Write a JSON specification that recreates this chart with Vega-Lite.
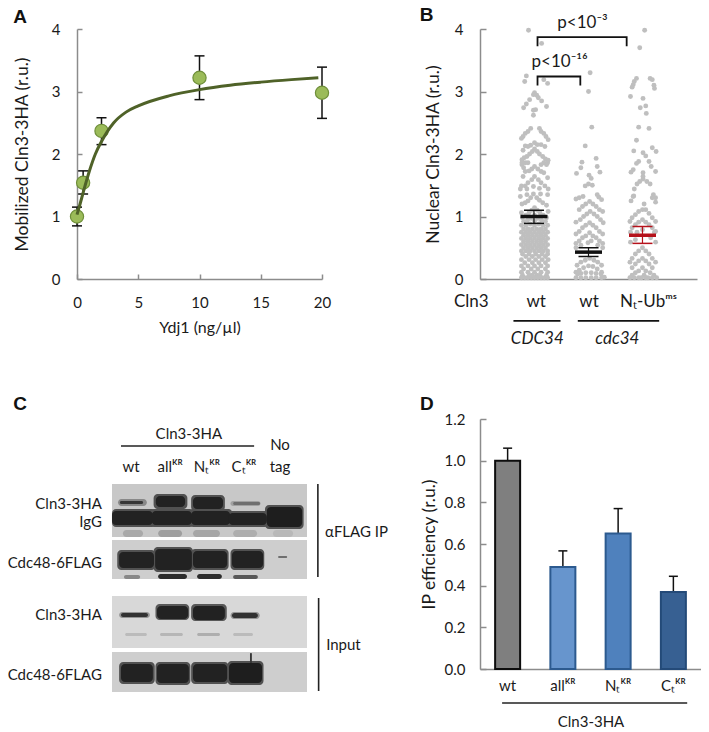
{
"$schema":"https://vega.github.io/schema/vega-lite/v6.json",
"padding":{"left":7,"top":6,"right":0,"bottom":0},
"background":"white",
"bounds":"flush",
"columns":2,
"spacing":{"column":158,"row":140},
"config":{"font":"Lato","tick":{"opacity":1},"view":{"stroke":null},"axis":{"grid":false,"labelFlush":false,"labelOverlap":false,"domainColor":"#8c8c8c","domainWidth":1.5,"tickColor":"#8c8c8c","tickWidth":1.5,"labelColor":"#1a1a1a","titleColor":"#1a1a1a","labelFontSize":15,"titleFontSize":17.5,"titleFontWeight":"normal","labelFont":"Lato","titleFont":"Lato"}},
"datasets":{
"swarm":[
{"g":"a","x":0.89,"y":3.98},{"g":"a","x":1.13,"y":3.77},{"g":"a","x":0.85,"y":3.25},{"g":"a","x":0.82,"y":3.16},{"g":"a","x":1.17,"y":3.19},{"g":"a","x":1.24,"y":3.13},{"g":"a","x":1,"y":2.98},{"g":"a","x":0.98,"y":2.95},{"g":"a","x":1.04,"y":2.94},{"g":"a","x":1.07,"y":2.9},{"g":"a","x":0.91,"y":2.87},{"g":"a","x":1.13,"y":2.85},{"g":"a","x":0.85,"y":2.8},{"g":"a","x":0.8,"y":2.74},{"g":"a","x":1.22,"y":2.76},{"g":"a","x":1.02,"y":2.71},{"g":"a","x":0.98,"y":2.7},{"g":"a","x":0.98,"y":2.62},
{"g":"a","x":0.93,"y":2.41},{"g":"a","x":0.88,"y":2.36},{"g":"a","x":0.83,"y":2.33},{"g":"a","x":0.79,"y":2.28},{"g":"a","x":0.76,"y":2.25},{"g":"a","x":1.09,"y":2.41},{"g":"a","x":1.12,"y":2.36},{"g":"a","x":1.17,"y":2.33},{"g":"a","x":1.21,"y":2.28},{"g":"a","x":1.25,"y":2.23},
{"g":"a","x":0.83,"y":2.13},{"g":"a","x":0.79,"y":2.06},{"g":"a","x":1,"y":2.18},{"g":"a","x":0.93,"y":2.14},{"g":"a","x":1.05,"y":2.15},{"g":"a","x":1.12,"y":2.15},{"g":"a","x":1.19,"y":2.12},{"g":"a","x":0.88,"y":2.12},
{"g":"a","x":1,"y":2.08},{"g":"a","x":0.96,"y":2.04},{"g":"a","x":0.91,"y":2},{"g":"a","x":0.86,"y":1.96},{"g":"a","x":0.81,"y":1.94},{"g":"a","x":0.77,"y":1.91},{"g":"a","x":1.05,"y":2.04},{"g":"a","x":1.09,"y":2},{"g":"a","x":1.15,"y":1.96},{"g":"a","x":1.2,"y":1.92},{"g":"a","x":1.25,"y":1.9},
{"g":"a","x":0.77,"y":1.83},{"g":"a","x":0.83,"y":1.86},{"g":"a","x":1.17,"y":1.86},{"g":"a","x":0.77,"y":1.86},{"g":"a","x":0.88,"y":1.86},{"g":"a","x":1.12,"y":1.83},{"g":"a","x":1.24,"y":1.86},{"g":"a","x":1.22,"y":1.83},
{"g":"a","x":1,"y":1.8},{"g":"a","x":0.95,"y":1.76},{"g":"a","x":0.9,"y":1.73},{"g":"a","x":0.83,"y":1.72},{"g":"a","x":1.06,"y":1.76},{"g":"a","x":1.12,"y":1.72},{"g":"a","x":1.17,"y":1.7},{"g":"a","x":0.8,"y":1.78},
{"g":"a","x":0.79,"y":1.64},{"g":"a","x":1.24,"y":1.62},{"g":"a","x":1,"y":1.64},{"g":"a","x":0.95,"y":1.59},{"g":"a","x":0.88,"y":1.54},{"g":"a","x":0.83,"y":1.49},{"g":"a","x":0.76,"y":1.49},{"g":"a","x":1.07,"y":1.59},{"g":"a","x":1.12,"y":1.54},{"g":"a","x":1.19,"y":1.49},{"g":"a","x":1.25,"y":1.44},{"g":"a","x":0.74,"y":1.44},{"g":"a","x":0.86,"y":1.44},{"g":"a","x":0.98,"y":1.48},{"g":"a","x":1.09,"y":1.45},
{"g":"a","x":0.98,"y":1.36},{"g":"a","x":0.93,"y":1.3},{"g":"a","x":0.88,"y":1.25},{"g":"a","x":0.83,"y":1.22},{"g":"a","x":0.77,"y":1.2},{"g":"a","x":1.04,"y":1.3},{"g":"a","x":1.09,"y":1.26},{"g":"a","x":1.15,"y":1.22},{"g":"a","x":1.22,"y":1.18},{"g":"a","x":0.74,"y":1.32},{"g":"a","x":0.86,"y":1.35},{"g":"a","x":1.11,"y":1.36},{"g":"a","x":1.24,"y":1.35},
{"g":"a","x":1,"y":1.14},{"g":"a","x":0.95,"y":1.1},{"g":"a","x":0.9,"y":1.06},{"g":"a","x":0.84,"y":1.02},{"g":"a","x":0.78,"y":0.98},{"g":"a","x":1.05,"y":1.1},{"g":"a","x":1.1,"y":1.06},{"g":"a","x":1.16,"y":1.02},{"g":"a","x":1.22,"y":0.98},{"g":"a","x":0.76,"y":1.06},{"g":"a","x":1.25,"y":1.08},{"g":"a","x":1,"y":1.02},{"g":"a","x":0.94,"y":0.97},{"g":"a","x":1.06,"y":0.97},{"g":"a","x":0.87,"y":0.94},{"g":"a","x":1.13,"y":0.94},{"g":"a","x":0.8,"y":0.92},{"g":"a","x":1.2,"y":0.92},{"g":"a","x":1,"y":0.93},
{"g":"a","x":0.76,"y":0.86},{"g":"a","x":0.84,"y":0.86},{"g":"a","x":0.92,"y":0.88},{"g":"a","x":1,"y":0.86},{"g":"a","x":1.08,"y":0.88},{"g":"a","x":1.16,"y":0.86},{"g":"a","x":1.24,"y":0.86},
{"g":"a","x":0.8,"y":0.8},{"g":"a","x":0.88,"y":0.8},{"g":"a","x":0.96,"y":0.8},{"g":"a","x":1.04,"y":0.8},{"g":"a","x":1.12,"y":0.8},{"g":"a","x":1.2,"y":0.8},
{"g":"a","x":0.76,"y":0.75},{"g":"a","x":0.84,"y":0.75},{"g":"a","x":0.92,"y":0.75},{"g":"a","x":1,"y":0.75},{"g":"a","x":1.08,"y":0.75},{"g":"a","x":1.16,"y":0.75},{"g":"a","x":1.24,"y":0.75},
{"g":"a","x":0.8,"y":0.7},{"g":"a","x":0.88,"y":0.7},{"g":"a","x":0.96,"y":0.7},{"g":"a","x":1.04,"y":0.7},{"g":"a","x":1.12,"y":0.7},{"g":"a","x":1.2,"y":0.7},
{"g":"a","x":0.76,"y":0.65},{"g":"a","x":0.84,"y":0.65},{"g":"a","x":0.92,"y":0.65},{"g":"a","x":1,"y":0.65},{"g":"a","x":1.08,"y":0.65},{"g":"a","x":1.16,"y":0.65},{"g":"a","x":1.24,"y":0.65},
{"g":"a","x":0.8,"y":0.6},{"g":"a","x":0.88,"y":0.6},{"g":"a","x":0.96,"y":0.6},{"g":"a","x":1.04,"y":0.6},{"g":"a","x":1.12,"y":0.6},{"g":"a","x":1.2,"y":0.6},
{"g":"a","x":0.76,"y":0.55},{"g":"a","x":0.84,"y":0.55},{"g":"a","x":0.92,"y":0.55},{"g":"a","x":1,"y":0.55},{"g":"a","x":1.08,"y":0.55},{"g":"a","x":1.16,"y":0.55},{"g":"a","x":1.24,"y":0.55},
{"g":"a","x":0.8,"y":0.5},{"g":"a","x":0.88,"y":0.5},{"g":"a","x":0.96,"y":0.5},{"g":"a","x":1.04,"y":0.5},{"g":"a","x":1.12,"y":0.5},{"g":"a","x":1.2,"y":0.5},
{"g":"a","x":0.76,"y":0.45},{"g":"a","x":0.84,"y":0.45},{"g":"a","x":0.92,"y":0.45},{"g":"a","x":1,"y":0.45},{"g":"a","x":1.08,"y":0.45},{"g":"a","x":1.16,"y":0.45},{"g":"a","x":1.24,"y":0.45},
{"g":"a","x":0.78,"y":0.4},{"g":"a","x":0.9,"y":0.4},{"g":"a","x":1.02,"y":0.4},{"g":"a","x":1.14,"y":0.4},{"g":"a","x":1.24,"y":0.4},
{"g":"a","x":0.84,"y":0.36},{"g":"a","x":0.96,"y":0.36},{"g":"a","x":1.08,"y":0.36},{"g":"a","x":1.2,"y":0.36},
{"g":"a","x":0.76,"y":0.31},{"g":"a","x":0.9,"y":0.31},{"g":"a","x":1.02,"y":0.31},{"g":"a","x":1.14,"y":0.31},{"g":"a","x":1.25,"y":0.31},
{"g":"a","x":0.82,"y":0.26},{"g":"a","x":0.96,"y":0.26},{"g":"a","x":1.08,"y":0.26},{"g":"a","x":1.2,"y":0.26},
{"g":"a","x":0.76,"y":0.21},{"g":"a","x":0.88,"y":0.21},{"g":"a","x":1,"y":0.21},{"g":"a","x":1.12,"y":0.21},{"g":"a","x":1.24,"y":0.21},
{"g":"a","x":0.8,"y":0.16},{"g":"a","x":0.94,"y":0.16},{"g":"a","x":1.06,"y":0.16},{"g":"a","x":1.2,"y":0.16},
{"g":"a","x":0.76,"y":0.11},{"g":"a","x":0.88,"y":0.11},{"g":"a","x":1,"y":0.11},{"g":"a","x":1.12,"y":0.11},{"g":"a","x":1.24,"y":0.11},
{"g":"a","x":0.78,"y":0.06},{"g":"a","x":0.9,"y":0.06},{"g":"a","x":0.96,"y":0.06},{"g":"a","x":1.04,"y":0.06},{"g":"a","x":1.1,"y":0.06},{"g":"a","x":1.22,"y":0.06},
{"g":"a","x":0.76,"y":0.02},{"g":"a","x":0.82,"y":0.02},{"g":"a","x":0.88,"y":0.02},{"g":"a","x":0.94,"y":0.02},{"g":"a","x":1,"y":0.02},{"g":"a","x":1.06,"y":0.02},{"g":"a","x":1.12,"y":0.02},{"g":"a","x":1.18,"y":0.02},{"g":"a","x":1.24,"y":0.02},
{"g":"b","x":2.02,"y":3.3},{"g":"b","x":1.99,"y":3},{"g":"b","x":2.05,"y":2.43},{"g":"b","x":1.93,"y":2.13},{"g":"b","x":1.87,"y":1.87},{"g":"b","x":2.13,"y":1.93},{"g":"b","x":1.85,"y":1.78},{"g":"b","x":2.15,"y":1.8},{"g":"b","x":1.77,"y":1.69},{"g":"b","x":2.2,"y":1.71},{"g":"b","x":2,"y":1.66},{"g":"b","x":2.04,"y":1.61},{"g":"b","x":1.93,"y":1.49},{"g":"b","x":1.99,"y":1.52},{"g":"b","x":2.06,"y":1.5},{"g":"b","x":1.89,"y":1.32},{"g":"b","x":1.82,"y":1.3},{"g":"b","x":1.76,"y":1.28},{"g":"b","x":2.15,"y":1.35},{"g":"b","x":2.18,"y":1.31},{"g":"b","x":2.23,"y":1.27},
{"g":"b","x":2.01,"y":1.24},{"g":"b","x":1.94,"y":1.2},{"g":"b","x":1.88,"y":1.16},{"g":"b","x":1.82,"y":1.11},{"g":"b","x":2.07,"y":1.2},{"g":"b","x":2.13,"y":1.16},{"g":"b","x":2.19,"y":1.11},{"g":"b","x":2.25,"y":1.08},
{"g":"b","x":2.02,"y":1.08},{"g":"b","x":1.96,"y":1.04},{"g":"b","x":1.9,"y":1},{"g":"b","x":1.84,"y":0.95},{"g":"b","x":1.76,"y":0.91},{"g":"b","x":2.09,"y":1.04},{"g":"b","x":2.15,"y":1},{"g":"b","x":2.21,"y":0.95},{"g":"b","x":2.26,"y":0.9},
{"g":"b","x":2.01,"y":0.9},{"g":"b","x":1.94,"y":0.86},{"g":"b","x":1.88,"y":0.82},{"g":"b","x":1.82,"y":0.76},{"g":"b","x":1.76,"y":0.72},{"g":"b","x":2.07,"y":0.86},{"g":"b","x":2.13,"y":0.82},{"g":"b","x":2.19,"y":0.76},{"g":"b","x":2.25,"y":0.72},
{"g":"b","x":2.01,"y":0.74},{"g":"b","x":1.94,"y":0.69},{"g":"b","x":1.88,"y":0.66},{"g":"b","x":1.82,"y":0.61},{"g":"b","x":1.76,"y":0.57},{"g":"b","x":2.07,"y":0.69},{"g":"b","x":2.13,"y":0.66},{"g":"b","x":2.19,"y":0.61},{"g":"b","x":2.25,"y":0.57},{"g":"b","x":2.04,"y":0.61},{"g":"b","x":1.98,"y":0.58},
{"g":"b","x":1.76,"y":0.5},{"g":"b","x":2.25,"y":0.5},{"g":"b","x":1.85,"y":0.54},{"g":"b","x":2.16,"y":0.54},
{"g":"b","x":2.01,"y":0.33},{"g":"b","x":1.93,"y":0.3},{"g":"b","x":1.85,"y":0.27},{"g":"b","x":1.78,"y":0.22},{"g":"b","x":2.09,"y":0.3},{"g":"b","x":2.16,"y":0.27},{"g":"b","x":2.23,"y":0.22},
{"g":"b","x":1.99,"y":0.21},{"g":"b","x":1.9,"y":0.18},{"g":"b","x":1.82,"y":0.14},{"g":"b","x":2.07,"y":0.2},{"g":"b","x":2.15,"y":0.16},{"g":"b","x":1.76,"y":0.11},{"g":"b","x":2.23,"y":0.11},
{"g":"b","x":1.79,"y":0.08},{"g":"b","x":1.85,"y":0.09},{"g":"b","x":1.94,"y":0.1},{"g":"b","x":2.04,"y":0.1},{"g":"b","x":2.13,"y":0.09},{"g":"b","x":2.22,"y":0.08},{"g":"b","x":1.76,"y":0.02},{"g":"b","x":1.85,"y":0.02},{"g":"b","x":1.94,"y":0.02},{"g":"b","x":2.04,"y":0.02},{"g":"b","x":2.13,"y":0.02},{"g":"b","x":2.23,"y":0.02},{"g":"b","x":2.28,"y":0.03},
{"g":"c","x":3.02,"y":3.98},{"g":"c","x":2.93,"y":3.7},{"g":"c","x":2.87,"y":3.21},{"g":"c","x":2.83,"y":3.16},{"g":"c","x":2.81,"y":3.11},{"g":"c","x":2.79,"y":3.07},{"g":"c","x":3.12,"y":3.21},{"g":"c","x":3.16,"y":3.19},{"g":"c","x":3.19,"y":3.1},{"g":"c","x":3.2,"y":3.05},{"g":"c","x":2.76,"y":2.92},{"g":"c","x":2.99,"y":2.89},{"g":"c","x":2.94,"y":2.74},{"g":"c","x":3.04,"y":2.77},{"g":"c","x":3.05,"y":2.65},{"g":"c","x":2.91,"y":2.43},{"g":"c","x":3.1,"y":2.41},{"g":"c","x":2.87,"y":2.22},{"g":"c","x":2.82,"y":2.05},{"g":"c","x":3.16,"y":2.1},{"g":"c","x":3.23,"y":2.04},{"g":"c","x":2.99,"y":2.02},{"g":"c","x":3.04,"y":1.97},{"g":"c","x":2.91,"y":1.88},{"g":"c","x":2.87,"y":1.85},{"g":"c","x":3.1,"y":1.88},{"g":"c","x":3.14,"y":1.8},{"g":"c","x":2.81,"y":1.75},{"g":"c","x":2.77,"y":1.71},{"g":"c","x":3.22,"y":1.72},
{"g":"c","x":2.99,"y":1.7},{"g":"c","x":2.99,"y":1.64},{"g":"c","x":2.99,"y":1.6},{"g":"c","x":2.93,"y":1.56},{"g":"c","x":2.88,"y":1.52},{"g":"c","x":3.06,"y":1.56},{"g":"c","x":3.12,"y":1.52},{"g":"c","x":2.83,"y":1.44},{"g":"c","x":2.82,"y":1.33},{"g":"c","x":3.18,"y":1.35},{"g":"c","x":3.22,"y":1.3},
{"g":"c","x":2.81,"y":1.32},{"g":"c","x":2.77,"y":1.25},{"g":"c","x":3.16,"y":1.3},{"g":"c","x":3.22,"y":1.23},{"g":"c","x":3.01,"y":1.2},
{"g":"c","x":2.98,"y":1.11},{"g":"c","x":2.91,"y":1.08},{"g":"c","x":2.85,"y":1.03},{"g":"c","x":2.79,"y":0.98},{"g":"c","x":2.75,"y":0.92},{"g":"c","x":3.04,"y":1.11},{"g":"c","x":3.1,"y":1.05},{"g":"c","x":3.16,"y":0.98},{"g":"c","x":3.22,"y":0.92},
{"g":"c","x":2.98,"y":0.95},{"g":"c","x":2.91,"y":0.91},{"g":"c","x":2.85,"y":0.87},{"g":"c","x":2.79,"y":0.82},{"g":"c","x":3.04,"y":0.91},{"g":"c","x":3.1,"y":0.87},{"g":"c","x":3.16,"y":0.82},{"g":"c","x":3.22,"y":0.76},{"g":"c","x":2.76,"y":0.75},{"g":"c","x":3.2,"y":0.75},{"g":"c","x":2.98,"y":0.79},{"g":"c","x":2.88,"y":0.75},
{"g":"c","x":2.85,"y":0.63},{"g":"c","x":3.13,"y":0.66},{"g":"c","x":2.76,"y":0.59},{"g":"c","x":3.22,"y":0.59},
{"g":"c","x":2.98,"y":0.5},{"g":"c","x":2.91,"y":0.45},{"g":"c","x":2.85,"y":0.4},{"g":"c","x":2.79,"y":0.33},{"g":"c","x":3.04,"y":0.45},{"g":"c","x":3.1,"y":0.4},{"g":"c","x":3.16,"y":0.33},{"g":"c","x":3.22,"y":0.27},{"g":"c","x":2.75,"y":0.27},
{"g":"c","x":2.98,"y":0.33},{"g":"c","x":2.91,"y":0.29},{"g":"c","x":2.85,"y":0.24},{"g":"c","x":2.79,"y":0.18},{"g":"c","x":3.04,"y":0.29},{"g":"c","x":3.1,"y":0.24},{"g":"c","x":3.16,"y":0.18},
{"g":"c","x":2.98,"y":0.18},{"g":"c","x":2.91,"y":0.13},{"g":"c","x":2.85,"y":0.1},{"g":"c","x":2.79,"y":0.06},{"g":"c","x":3.04,"y":0.13},{"g":"c","x":3.12,"y":0.1},{"g":"c","x":3.19,"y":0.06},{"g":"c","x":2.75,"y":0.02},{"g":"c","x":2.83,"y":0.02},{"g":"c","x":2.91,"y":0.02},{"g":"c","x":3.01,"y":0.06},{"g":"c","x":3.08,"y":0.02},{"g":"c","x":3.16,"y":0.02},{"g":"c","x":3.24,"y":0.02},{"g":"c","x":2.96,"y":0.02},{"g":"c","x":3.04,"y":0.02}
],
"stats":[{"g":"a","x":0.99,"mean":1,"lo":0.89,"hi":1.1},{"g":"b","x":1.99,"mean":0.43,"lo":0.36,"hi":0.5},{"g":"c","x":2.98,"mean":0.7,"lo":0.57,"hi":0.84}],
"blot":[
{"a":0.44,"b":5.64,"t":94,"u":147,"i":0.2},{"a":0.44,"b":5.64,"t":150,"u":189,"i":0.18},{"a":0.44,"b":5.64,"t":206,"u":258,"i":0.14},{"a":0.44,"b":5.64,"t":262,"u":302,"i":0.18}
],
"bands":[
{"a":0.6,"b":1.37,"t":109,"u":116,"i":0.45},{"a":0.65,"b":1.27,"t":111,"u":114,"i":0.8},
{"a":1.55,"b":2.45,"t":104,"u":119,"i":0.68},{"a":1.61,"b":2.39,"t":106,"u":117,"i":0.9},
{"a":2.55,"b":3.45,"t":105,"u":121,"i":0.68},{"a":2.6,"b":3.4,"t":107,"u":119,"i":0.9},
{"a":3.6,"b":4.4,"t":111,"u":116,"i":0.35},{"a":3.67,"b":4.39,"t":112,"u":115,"i":0.55},
{"a":0.44,"b":1.6,"t":119,"u":137,"i":0.68},{"a":0.44,"b":1.53,"t":121,"u":135,"i":0.9},
{"a":1.45,"b":2.62,"t":119,"u":137,"i":0.68},{"a":1.5,"b":2.57,"t":121,"u":135,"i":0.9},
{"a":2.5,"b":3.65,"t":119,"u":137,"i":0.68},{"a":2.55,"b":3.59,"t":121,"u":135,"i":0.9},
{"a":3.5,"b":4.62,"t":121,"u":137,"i":0.68},{"a":3.55,"b":4.57,"t":123,"u":135,"i":0.9},
{"a":4.52,"b":5.55,"t":115,"u":139,"i":0.68},{"a":4.57,"b":5.51,"t":117,"u":137,"i":0.92},
{"a":0.73,"b":1.27,"t":140,"u":147,"i":0.32},{"a":1.67,"b":2.31,"t":140,"u":147,"i":0.36},{"a":2.6,"b":3.32,"t":140,"u":147,"i":0.33},{"a":3.67,"b":4.31,"t":140,"u":147,"i":0.3},{"a":4.73,"b":5.27,"t":140,"u":147,"i":0.26},
{"a":0.58,"b":1.6,"t":160,"u":180,"i":0.68},{"a":0.63,"b":1.56,"t":162,"u":178,"i":0.9},
{"a":1.55,"b":2.6,"t":157,"u":182,"i":0.68},{"a":1.59,"b":2.57,"t":159,"u":180,"i":0.9},
{"a":2.55,"b":3.55,"t":159,"u":180,"i":0.68},{"a":2.6,"b":3.51,"t":161,"u":178,"i":0.9},
{"a":3.6,"b":4.5,"t":159,"u":180,"i":0.68},{"a":3.64,"b":4.47,"t":161,"u":178,"i":0.9},
{"a":4.87,"b":5.11,"t":166,"u":168,"i":0.55},
{"a":0.76,"b":1.19,"t":185,"u":189,"i":0.45},{"a":1.67,"b":2.44,"t":184,"u":189,"i":0.85},{"a":2.71,"b":3.37,"t":184,"u":189,"i":0.85},{"a":3.67,"b":4.33,"t":185,"u":189,"i":0.65},
{"a":0.63,"b":1.45,"t":222,"u":228,"i":0.4},{"a":0.68,"b":1.4,"t":223,"u":227,"i":0.82},
{"a":1.6,"b":2.5,"t":214,"u":230,"i":0.65},{"a":1.64,"b":2.47,"t":216,"u":229,"i":0.9},
{"a":2.55,"b":3.5,"t":214,"u":231,"i":0.65},{"a":2.6,"b":3.45,"t":216,"u":230,"i":0.9},
{"a":3.6,"b":4.38,"t":222,"u":229,"i":0.4},{"a":3.64,"b":4.33,"t":223,"u":228,"i":0.82},
{"a":0.79,"b":1.37,"t":243,"u":246,"i":0.25},{"a":1.72,"b":2.33,"t":243,"u":246,"i":0.27},{"a":2.71,"b":3.32,"t":243,"u":246,"i":0.3},{"a":3.67,"b":4.2,"t":243,"u":246,"i":0.25},
{"a":0.63,"b":1.58,"t":272,"u":294,"i":0.68},{"a":0.68,"b":1.53,"t":274,"u":292,"i":0.9},
{"a":1.6,"b":2.53,"t":272,"u":295,"i":0.68},{"a":1.64,"b":2.49,"t":274,"u":293,"i":0.9},
{"a":2.55,"b":3.55,"t":272,"u":294,"i":0.68},{"a":2.6,"b":3.51,"t":274,"u":292,"i":0.9},
{"a":3.52,"b":4.48,"t":271,"u":295,"i":0.68},{"a":3.56,"b":4.44,"t":273,"u":293,"i":0.92},
{"a":4.12,"b":4.17,"t":263,"u":274,"i":0.8}
]
},
"concat":[
{"width":245,"height":250,"layer":[
{"data":{"values":[{"d":0,"m":1,"lo":0.85,"hi":1.15},{"d":0.5,"m":1.54,"lo":1.36,"hi":1.73},{"d":2,"m":2.37,"lo":2.15,"hi":2.58},{"d":10,"m":3.22,"lo":2.87,"hi":3.57},{"d":20,"m":2.98,"lo":2.57,"hi":3.39}]},
"mark":{"type":"rule","color":"#111111","strokeWidth":1.5},
"encoding":{"x":{"field":"d","type":"quantitative","scale":{"domain":[0,20],"nice":false},"axis":{"values":[0,5,10,15,20],"format":"d","title":"Ydj1 (ng/µl)","titleFontSize":16,"tickSize":-5,"labelPadding":21,"titlePadding":9,"grid":false}},"y":{"field":"lo","type":"quantitative","scale":{"domain":[0,4],"nice":false},"axis":{"values":[0,1,2,3,4],"format":"d","title":"Mobilized Cln3-3HA (r.u.)","tickSize":-5,"labelPadding":22,"titlePadding":20}},"y2":{"field":"hi"}}},
{"data":{"values":[{"d":0,"v":0.85},{"d":0,"v":1.15},{"d":0.5,"v":1.36},{"d":0.5,"v":1.73},{"d":2,"v":2.15},{"d":2,"v":2.58},{"d":10,"v":2.87},{"d":10,"v":3.57},{"d":20,"v":2.57},{"d":20,"v":3.39}]},
"mark":{"type":"tick","orient":"horizontal","size":10,"thickness":1.5,"color":"#111111"},
"encoding":{"x":{"field":"d","type":"quantitative","scale":{"domain":[0,20],"nice":false}},"y":{"field":"v","type":"quantitative","scale":{"domain":[0,4],"nice":false}}}},
{"data":{"values":[{"d":0,"m":1},{"d":0.5,"m":1.54},{"d":2,"m":2.37},{"d":10,"m":3.22},{"d":20,"m":2.98}]},
"mark":{"type":"circle","size":175,"opacity":1,"fill":"#9BBB59","stroke":"#6f8f3a","strokeWidth":1.2},
"encoding":{"x":{"field":"d","type":"quantitative","scale":{"domain":[0,20],"nice":false}},"y":{"field":"m","type":"quantitative","scale":{"domain":[0,4],"nice":false}}}},
{"data":{"values":[{"d":0,"f":1.03},{"d":0.25,"f":1.2},{"d":0.5,"f":1.38},{"d":1,"f":1.72},{"d":1.5,"f":2},{"d":2,"f":2.2},{"d":3,"f":2.5},{"d":4,"f":2.67},{"d":5,"f":2.77},{"d":7.5,"f":2.93},{"d":10,"f":3.03},{"d":12.5,"f":3.1},{"d":15,"f":3.15},{"d":17.5,"f":3.19},{"d":19.7,"f":3.22}]},
"mark":{"type":"line","color":"#4F6228","strokeWidth":3,"interpolate":"monotone"},
"encoding":{"x":{"field":"d","type":"quantitative","scale":{"domain":[0,20],"nice":false}},"y":{"field":"f","type":"quantitative","scale":{"domain":[0,4],"nice":false}}}},
{"data":{"values":[{"d":-4.65,"v":4.2,"t":"A"}]},
"mark":{"type":"text","font":"Liberation Sans","fontWeight":"bold","fontSize":19,"color":"#111111"},
"encoding":{"x":{"field":"d","type":"quantitative","scale":{"domain":[0,20],"nice":false}},"y":{"field":"v","type":"quantitative","scale":{"domain":[0,4],"nice":false}},"text":{"field":"t"}}}
]},
{"width":217,"height":250,"layer":[
{"data":{"name":"swarm"},"mark":{"type":"circle","size":24,"opacity":1,"color":"#bfbfbf"},
"encoding":{"x":{"field":"x","type":"quantitative","scale":{"domain":[0,3.98],"nice":false},"axis":{"title":null,"labels":false,"ticks":false}},"y":{"field":"y","type":"quantitative","scale":{"domain":[0,4],"nice":false},"axis":{"values":[0,1,2,3,4],"format":"d","title":"Nuclear Cln3-3HA (r.u.)","tickSize":-6,"labelPadding":23,"titlePadding":12}}}},
{"data":{"name":"stats"},"mark":{"type":"rule","strokeWidth":1.2},
"encoding":{"x":{"field":"x","type":"quantitative","scale":{"domain":[0,3.98],"nice":false}},"y":{"field":"lo","type":"quantitative","scale":{"domain":[0,4],"nice":false}},"y2":{"field":"hi"},"color":{"field":"g","type":"nominal","scale":{"domain":["a","b","c"],"range":["#111111","#111111","#b5121b"]},"legend":null}}},
{"data":{"name":"stats"},"mark":{"type":"tick","orient":"horizontal","size":27,"thickness":3.5},
"encoding":{"x":{"field":"x","type":"quantitative","scale":{"domain":[0,3.98],"nice":false}},"y":{"field":"mean","type":"quantitative","scale":{"domain":[0,4],"nice":false}},"color":{"field":"g","type":"nominal","scale":{"domain":["a","b","c"],"range":["#111111","#111111","#b5121b"]},"legend":null}}},
{"data":{"name":"stats"},"mark":{"type":"tick","orient":"horizontal","size":20,"thickness":1.5},
"encoding":{"x":{"field":"x","type":"quantitative","scale":{"domain":[0,3.98],"nice":false}},"y":{"field":"lo","type":"quantitative","scale":{"domain":[0,4],"nice":false}},"color":{"field":"g","type":"nominal","scale":{"domain":["a","b","c"],"range":["#111111","#111111","#b5121b"]},"legend":null}}},
{"data":{"name":"stats"},"mark":{"type":"tick","orient":"horizontal","size":20,"thickness":1.5},
"encoding":{"x":{"field":"x","type":"quantitative","scale":{"domain":[0,3.98],"nice":false}},"y":{"field":"hi","type":"quantitative","scale":{"domain":[0,4],"nice":false}},"color":{"field":"g","type":"nominal","scale":{"domain":["a","b","c"],"range":["#111111","#111111","#b5121b"]},"legend":null}}},
{"data":{"values":[{"k":"p3","x":1.055,"y":3.74,"o":1},{"k":"p3","x":1.055,"y":3.87,"o":2},{"k":"p3","x":2.69,"y":3.87,"o":3},{"k":"p3","x":2.69,"y":3.74,"o":4},{"k":"p16","x":1.055,"y":3.11,"o":1},{"k":"p16","x":1.055,"y":3.24,"o":2},{"k":"p16","x":1.84,"y":3.24,"o":3},{"k":"p16","x":1.84,"y":3.11,"o":4},{"k":"u1","x":0.63,"y":-0.67,"o":1},{"k":"u1","x":1.46,"y":-0.67,"o":2},{"k":"u2","x":1.81,"y":-0.67,"o":1},{"k":"u2","x":3.27,"y":-0.67,"o":2}]},
"mark":{"type":"line","color":"#111111","strokeWidth":1.8,"strokeCap":"square","clip":false},
"encoding":{"x":{"field":"x","type":"quantitative","scale":{"domain":[0,3.98],"nice":false}},"y":{"field":"y","type":"quantitative","scale":{"domain":[0,4],"nice":false}},"detail":{"field":"k"},"order":{"field":"o"}}},
{"data":{"values":[{"x":1.88,"y":4.09,"t":"p<10⁻³"},{"x":1.46,"y":3.47,"t":"p<10⁻¹⁶"},{"x":-0.16,"y":-0.37,"t":"Cln3"},{"x":1.03,"y":-0.37,"t":"wt"},{"x":2,"y":-0.37,"t":"wt"},{"x":3.09,"y":-0.37,"t":"Nₜ-Ubᵐˢ"}]},
"mark":{"type":"text","fontSize":17,"color":"#1a1a1a"},
"encoding":{"x":{"field":"x","type":"quantitative","scale":{"domain":[0,3.98],"nice":false}},"y":{"field":"y","type":"quantitative","scale":{"domain":[0,4],"nice":false}},"text":{"field":"t"}}},
{"data":{"values":[{"x":1.05,"y":-0.96,"t":"CDC34"},{"x":2.52,"y":-0.96,"t":"cdc34"}]},
"mark":{"type":"text","fontSize":17,"fontStyle":"italic","color":"#1a1a1a"},
"encoding":{"x":{"field":"x","type":"quantitative","scale":{"domain":[0,3.98],"nice":false}},"y":{"field":"y","type":"quantitative","scale":{"domain":[0,4],"nice":false}},"text":{"field":"t"}}},
{"data":{"values":[{"x":-0.98,"y":4.22,"t":"B"}]},
"mark":{"type":"text","font":"Liberation Sans","fontWeight":"bold","fontSize":19,"color":"#111111"},
"encoding":{"x":{"field":"x","type":"quantitative","scale":{"domain":[0,3.98],"nice":false}},"y":{"field":"y","type":"quantitative","scale":{"domain":[0,4],"nice":false}},"text":{"field":"t"}}}
]},
{"width":245,"height":250,"layer":[
{"data":{"name":"blot"},"mark":{"type":"rect"},
"encoding":{"x":{"field":"a","type":"quantitative","scale":{"domain":[-0.493,6.04],"nice":false},"axis":null},"x2":{"field":"b"},"y":{"field":"t","type":"quantitative","scale":{"domain":[29,279],"reverse":true,"nice":false,"zero":false},"axis":null},"y2":{"field":"u"},"color":{"field":"i","type":"quantitative","scale":{"domain":[0,1],"range":["#ffffff","#0d0d0d"]},"legend":null}}},
{"data":{"name":"bands"},"mark":{"type":"rect","cornerRadius":4},
"encoding":{"x":{"field":"a","type":"quantitative","scale":{"domain":[-0.493,6.04],"nice":false},"axis":null},"x2":{"field":"b"},"y":{"field":"t","type":"quantitative","scale":{"domain":[29,279],"reverse":true,"nice":false,"zero":false},"axis":null},"y2":{"field":"u"},"order":{"field":"i"},"color":{"field":"i","type":"quantitative","scale":{"domain":[0,1],"range":["#ffffff","#0d0d0d"]},"legend":null}}},
{"data":{"values":[{"k":"top","x":0.68,"y":56,"o":1},{"k":"top","x":4.23,"y":56,"o":2},{"k":"ip","x":5.93,"y":94,"o":1},{"k":"ip","x":5.93,"y":187,"o":2},{"k":"in","x":5.95,"y":208,"o":1},{"k":"in","x":5.95,"y":301,"o":2}]},
"mark":{"type":"line","color":"#222222","strokeWidth":1.6},
"encoding":{"x":{"field":"x","type":"quantitative","scale":{"domain":[-0.493,6.04],"nice":false},"axis":null},"y":{"field":"y","type":"quantitative","scale":{"domain":[29,279],"reverse":true,"nice":false,"zero":false},"axis":null},"detail":{"field":"k"},"order":{"field":"o"}}},
{"data":{"values":[{"x":0.17,"y":114,"t":"Cln3-3HA"},{"x":0.17,"y":132,"t":"IgG"},{"x":0.17,"y":173,"t":"Cdc48-6FLAG"},{"x":0.17,"y":225,"t":"Cln3-3HA"},{"x":0.17,"y":285,"t":"Cdc48-6FLAG"}]},
"mark":{"type":"text","align":"right","fontSize":15,"color":"#1a1a1a"},
"encoding":{"x":{"field":"x","type":"quantitative","scale":{"domain":[-0.493,6.04],"nice":false},"axis":null},"y":{"field":"y","type":"quantitative","scale":{"domain":[29,279],"reverse":true,"nice":false,"zero":false},"axis":null},"text":{"field":"t"}}},
{"data":{"values":[{"x":2.49,"y":44,"t":"Cln3-3HA"},{"x":4.92,"y":55,"t":"No"},{"x":4.92,"y":77,"t":"tag"},{"x":0.95,"y":77,"t":"wt"},{"x":1.99,"y":77,"t":"allᴷᴿ"},{"x":2.97,"y":77,"t":"Nₜᴷᴿ"},{"x":3.96,"y":77,"t":"Cₜᴷᴿ"}]},
"mark":{"type":"text","fontSize":15,"color":"#1a1a1a"},
"encoding":{"x":{"field":"x","type":"quantitative","scale":{"domain":[-0.493,6.04],"nice":false},"axis":null},"y":{"field":"y","type":"quantitative","scale":{"domain":[29,279],"reverse":true,"nice":false,"zero":false},"axis":null},"text":{"field":"t"}}},
{"data":{"values":[{"x":6.12,"y":142,"t":"αFLAG IP"},{"x":6.15,"y":255,"t":"Input"}]},
"mark":{"type":"text","align":"left","fontSize":15,"color":"#1a1a1a"},
"encoding":{"x":{"field":"x","type":"quantitative","scale":{"domain":[-0.493,6.04],"nice":false},"axis":null},"y":{"field":"y","type":"quantitative","scale":{"domain":[29,279],"reverse":true,"nice":false,"zero":false},"axis":null},"text":{"field":"t"}}},
{"data":{"values":[{"x":-2.01,"y":14,"t":"C"}]},
"mark":{"type":"text","font":"Liberation Sans","fontWeight":"bold","fontSize":19,"color":"#111111"},
"encoding":{"x":{"field":"x","type":"quantitative","scale":{"domain":[-0.493,6.04],"nice":false},"axis":null},"y":{"field":"y","type":"quantitative","scale":{"domain":[29,279],"reverse":true,"nice":false,"zero":false},"axis":null},"text":{"field":"t"}}}
]},
{"width":221,"height":250,
"resolve":{"scale":{"x":"independent"}},
"layer":[
{"layer":[
{"data":{"values":[{"n":"wt","v":1,"hi":1.06},{"n":"allᴷᴿ","v":0.49,"hi":0.567},{"n":"Nₜᴷᴿ","v":0.65,"hi":0.77},{"n":"Cₜᴷᴿ","v":0.37,"hi":0.445}]},
"mark":{"type":"rule","color":"#111111","strokeWidth":1.5},
"encoding":{"x":{"field":"n","type":"nominal","sort":null,"scale":{"domain":["wt","allᴷᴿ","Nₜᴷᴿ","Cₜᴷᴿ"],"padding":0},"axis":{"title":"Cln3-3HA","titleFontSize":15,"labelAngle":0,"ticks":false,"labelPadding":9,"titlePadding":21}},"y":{"field":"v","type":"quantitative","scale":{"domain":[0,1.2],"nice":false},"axis":{"values":[0,0.2,0.4,0.6,0.8,1,1.2],"format":".1f","title":"IP efficiency (r.u.)","tickSize":-6,"labelPadding":21,"titlePadding":6}},"y2":{"field":"hi"}}},
{"data":{"values":[{"n":"wt","hi":1.06},{"n":"allᴷᴿ","hi":0.567},{"n":"Nₜᴷᴿ","hi":0.77},{"n":"Cₜᴷᴿ","hi":0.445}]},
"mark":{"type":"tick","orient":"horizontal","size":9,"thickness":1.5,"color":"#111111"},
"encoding":{"x":{"field":"n","type":"nominal","sort":null,"scale":{"domain":["wt","allᴷᴿ","Nₜᴷᴿ","Cₜᴷᴿ"],"padding":0}},"y":{"field":"hi","type":"quantitative","scale":{"domain":[0,1.2],"nice":false}}}},
{"data":{"values":[{"n":"wt","v":1},{"n":"allᴷᴿ","v":0.49},{"n":"Nₜᴷᴿ","v":0.65},{"n":"Cₜᴷᴿ","v":0.37}]},
"mark":{"type":"bar","size":25,"strokeWidth":2},
"encoding":{"x":{"field":"n","type":"nominal","sort":null,"scale":{"domain":["wt","allᴷᴿ","Nₜᴷᴿ","Cₜᴷᴿ"],"padding":0}},"y":{"field":"v","type":"quantitative","scale":{"domain":[0,1.2],"nice":false}},"fill":{"field":"n","type":"nominal","scale":{"domain":["wt","allᴷᴿ","Nₜᴷᴿ","Cₜᴷᴿ"],"range":["#7f7f7f","#6795cd","#4f81bd","#376092"]},"legend":null},"stroke":{"field":"n","type":"nominal","scale":{"domain":["wt","allᴷᴿ","Nₜᴷᴿ","Cₜᴷᴿ"],"range":["#0d0d0d","#2c5a8f","#2c5a8f","#244a78"]},"legend":null}}}
]},
{"layer":[
{"data":{"values":[{"x":0.4,"y":-0.163,"o":1},{"x":3.75,"y":-0.163,"o":2}]},
"mark":{"type":"line","color":"#222222","strokeWidth":1.6},
"encoding":{"x":{"field":"x","type":"quantitative","scale":{"domain":[0,4],"nice":false},"axis":null},"y":{"field":"y","type":"quantitative","scale":{"domain":[0,1.2],"nice":false}},"order":{"field":"o"}}},
{"data":{"values":[{"x":-0.96,"y":1.27,"t":"D"}]},
"mark":{"type":"text","font":"Liberation Sans","fontWeight":"bold","fontSize":19,"color":"#111111"},
"encoding":{"x":{"field":"x","type":"quantitative","scale":{"domain":[0,4],"nice":false},"axis":null},"y":{"field":"y","type":"quantitative","scale":{"domain":[0,1.2],"nice":false}},"text":{"field":"t"}}}
]}
]}
]
}
